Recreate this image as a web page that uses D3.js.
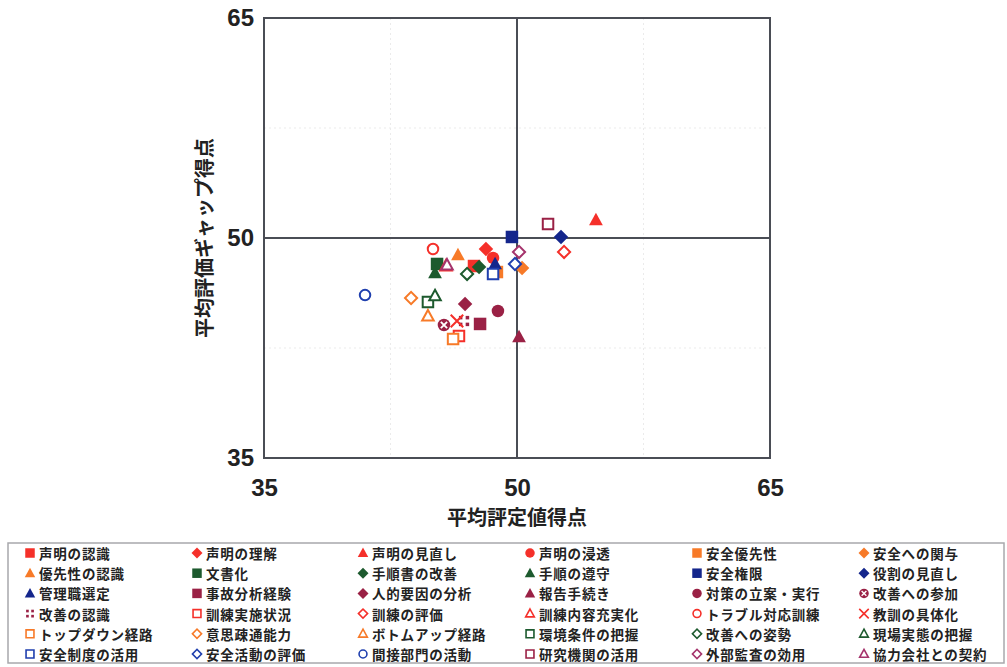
<!DOCTYPE html>
<html>
<head>
<meta charset="utf-8">
<script src="https://cdn.jsdelivr.net/npm/d3@7"></script>
<style>
  html, body { margin: 0; padding: 0; background: #fff; }
  svg { display: block; }
  .tick-label { font-family: 'Liberation Sans Narrow', 'Arial Narrow', 'Liberation Sans', sans-serif; font-weight: bold; font-size: 24px; fill: #222; }
  .axis-title { font-family: 'Noto Sans CJK JP', sans-serif; font-weight: bold; font-size: 20px; fill: #222; }
  .legend-text { font-family: 'Noto Sans CJK JP', sans-serif; font-weight: bold; font-size: 13.5px; fill: #222; letter-spacing: 0.8px; }
</style>
</head>
<body>
<svg id="chart" width="1007" height="667"></svg>
<script>
// Safety-culture survey items: mean rating score (x) vs mean rating-gap score (y)
const seriesNames = [
  "声明の認識", "声明の理解", "声明の見直し", "声明の浸透", "安全優先性", "安全への関与",
  "優先性の認識", "文書化", "手順書の改善", "手順の遵守", "安全権限", "役割の見直し",
  "管理職選定", "事故分析経験", "人的要因の分析", "報告手続き", "対策の立案・実行", "改善への参加",
  "改善の認識", "訓練実施状況", "訓練の評価", "訓練内容充実化", "トラブル対応訓練", "教訓の具体化",
  "トップダウン経路", "意思疎通能力", "ボトムアップ経路", "環境条件の把握", "改善への姿勢", "現場実態の把握",
  "安全制度の活用", "安全活動の評価", "間接部門の活動", "研究機関の活用", "外部監査の効用", "協力会社との契約"
];

const avgRating = [
  47.45, 48.16, 54.68, 48.58, 48.81, 50.30,
  46.50, 45.26, 47.75, 45.14, 49.70, 52.61,
  48.70, 47.81, 46.92, 50.12, 48.87, 45.67,
  46.86, 46.56, 52.79, 45.79, 45.02, 46.44,
  46.21, 43.72, 44.72, 44.72, 47.04, 45.14,
  48.58, 49.88, 40.99, 51.84, 50.12, 45.85
];

const avgGap = [
  48.09, 49.25, 51.23, 48.64, 47.68, 47.95,
  48.84, 48.23, 48.02, 47.61, 50.07, 50.07,
  48.23, 44.14, 45.50, 43.25, 45.02, 44.07,
  44.34, 43.32, 49.05, 48.09, 49.25, 44.34,
  43.11, 45.91, 44.68, 45.64, 47.55, 46.05,
  47.55, 48.23, 46.11, 50.95, 49.05, 48.16
];

const xTicks = [35, 50, 65];
const yTicks = [35, 50, 65];
const minorGrid = [42.5, 57.5];

// Marker style per series: shape, colour, filled or open
const RED = "#f5302a", ORANGE = "#f77a28", DKGREEN = "#1d5a2e", NAVY = "#14268c",
      MAROON = "#9a2145", BLUE = "#1f3fae", PURPLE = "#a5336c";
const markerStyles = [
  ["square", RED, true], ["diamond", RED, true], ["triangle", RED, true], ["circle", RED, true], ["square", ORANGE, true], ["diamond", ORANGE, true],
  ["triangle", ORANGE, true], ["square", DKGREEN, true], ["diamond", DKGREEN, true], ["triangle", DKGREEN, true], ["square", NAVY, true], ["diamond", NAVY, true],
  ["triangle", NAVY, true], ["square", MAROON, true], ["diamond", MAROON, true], ["triangle", MAROON, true], ["circle", MAROON, true], ["circlex", MAROON, true],
  ["dots", MAROON, true], ["square", RED, false], ["diamond", RED, false], ["triangle", RED, false], ["circle", RED, false], ["times", RED, false],
  ["square", ORANGE, false], ["diamond", ORANGE, false], ["triangle", ORANGE, false], ["square", DKGREEN, false], ["diamond", DKGREEN, false], ["triangle", DKGREEN, false],
  ["square", BLUE, false], ["diamond", BLUE, false], ["circle", BLUE, false], ["square", MAROON, false], ["diamond", PURPLE, false], ["triangle", PURPLE, false]
];

const svg = d3.select("#chart");
const plot = { left: 264, right: 770, top: 18, bottom: 458 };

const x = d3.scaleLinear().domain([35, 65]).range([plot.left, plot.right]);
const y = d3.scaleLinear().domain([35, 65]).range([plot.bottom, plot.top]);

// faint minor gridlines
const grid = svg.append("g");
grid.selectAll("line.gx").data(minorGrid).join("line")
  .attr("x1", d => x(d)).attr("x2", d => x(d))
  .attr("y1", plot.top).attr("y2", plot.bottom)
  .attr("stroke", "#ebebeb").attr("stroke-width", 1).attr("stroke-dasharray", "2,3");
grid.selectAll("line.gy").data(minorGrid).join("line")
  .attr("y1", d => y(d)).attr("y2", d => y(d))
  .attr("x1", plot.left).attr("x2", plot.right)
  .attr("stroke", "#ebebeb").attr("stroke-width", 1).attr("stroke-dasharray", "2,3");

// frame
svg.append("rect")
  .attr("x", plot.left).attr("y", plot.top)
  .attr("width", plot.right - plot.left).attr("height", plot.bottom - plot.top)
  .attr("fill", "none").attr("stroke", "#4a4d55").attr("stroke-width", 2);

// crosshair at 50 / 50
svg.append("line").attr("x1", x(50)).attr("x2", x(50)).attr("y1", plot.top).attr("y2", plot.bottom)
  .attr("stroke", "#4a4d55").attr("stroke-width", 2);
svg.append("line").attr("y1", y(50)).attr("y2", y(50)).attr("x1", plot.left).attr("x2", plot.right)
  .attr("stroke", "#4a4d55").attr("stroke-width", 2);

// axes (labels only)
const xAxis = svg.append("g").attr("transform", `translate(0,${plot.bottom})`)
  .call(d3.axisBottom(x).tickValues(xTicks).tickSize(0).tickPadding(21).tickFormat(d3.format("d")));
const yAxis = svg.append("g").attr("transform", `translate(${plot.left},0)`)
  .call(d3.axisLeft(y).tickValues(yTicks).tickSize(0).tickPadding(10).tickFormat(d3.format("d")));
[xAxis, yAxis].forEach(a => {
  a.select(".domain").remove();
  a.selectAll("text").attr("class", "tick-label").attr("font-size", null).attr("font-family", null);
});
xAxis.attr("font-size", null).attr("font-family", null);
yAxis.attr("font-size", null).attr("font-family", null);

// axis titles
svg.append("text").attr("class", "axis-title")
  .attr("x", x(50)).attr("y", 525).attr("text-anchor", "middle").text("平均評定値得点");
svg.append("text").attr("class", "axis-title")
  .attr("transform", `translate(207,${y(50)}) rotate(-90)`)
  .attr("text-anchor", "middle").attr("dominant-baseline", "middle").text("平均評価ギャップ得点");

// marker drawing
function drawMarker(g, style, s) {
  const [shape, color, filled] = style;
  const fill = filled ? color : "#fff";
  const sw = filled ? 0 : Math.max(1.6, s * 0.16);
  const inner = filled ? s : s - sw;
  if (shape === "square") {
    g.append("path").attr("d", d3.symbol(d3.symbolSquare, inner * inner)())
      .attr("fill", fill).attr("stroke", color).attr("stroke-width", sw);
  } else if (shape === "diamond") {
    const side = inner * 0.82;
    g.append("path").attr("d", d3.symbol(d3.symbolSquare, side * side)())
      .attr("transform", "rotate(45)")
      .attr("fill", fill).attr("stroke", color).attr("stroke-width", sw);
  } else if (shape === "triangle") {
    const h = inner * 1.0, w = inner * 1.1;
    g.append("path").attr("d", `M0,${-h * 0.58}L${w / 2},${h * 0.42}L${-w / 2},${h * 0.42}Z`)
      .attr("fill", fill).attr("stroke", color).attr("stroke-width", sw).attr("stroke-linejoin", "miter");
  } else if (shape === "circle") {
    g.append("circle").attr("r", inner / 2)
      .attr("fill", fill).attr("stroke", color).attr("stroke-width", sw);
  } else if (shape === "circlex") {
    const r = s / 2;
    g.append("circle").attr("r", r).attr("fill", color);
    const k = r * 0.5;
    g.append("path").attr("d", `M${-k},${-k}L${k},${k}M${k},${-k}L${-k},${k}`)
      .attr("stroke", "#fff").attr("stroke-width", Math.max(1.2, s * 0.15));
  } else if (shape === "dots") {
    const d = s * 0.28, o = s * 0.27;
    [[-1, -1], [1, -1], [-1, 1], [1, 1]].forEach(([a, b]) => {
      g.append("rect").attr("x", a * o - d / 2).attr("y", b * o - d / 2)
        .attr("width", d).attr("height", d).attr("fill", color);
    });
  } else if (shape === "times") {
    const k = s / 2;
    g.append("path").attr("d", `M${-k},${-k}L${k},${k}M${k},${-k}L${-k},${k}`)
      .attr("stroke", color).attr("stroke-width", Math.max(1.6, s * 0.16));
  }
}

// data points (drawn in series order so later series sit on top)
const points = svg.append("g");
seriesNames.forEach((name, i) => {
  const g = points.append("g").attr("transform", `translate(${x(avgRating[i])},${y(avgGap[i])})`);
  drawMarker(g, markerStyles[i], 12.5);
});

// legend
const legend = svg.append("g");
legend.append("rect").attr("x", 8).attr("y", 543).attr("width", 996).attr("height", 120)
  .attr("fill", "#fff").attr("stroke", "#a8a8ac").attr("stroke-width", 1.5);
const colX = [30, 197, 363, 530, 697, 864];
seriesNames.forEach((name, i) => {
  const cx = colX[i % 6], cy = 553 + Math.floor(i / 6) * 20.2;
  const g = legend.append("g").attr("transform", `translate(${cx},${cy})`);
  drawMarker(g, markerStyles[i], 9.5);
  legend.append("text").attr("class", "legend-text")
    .attr("x", cx + 9).attr("y", cy).attr("dominant-baseline", "central").text(name);
});
</script>
</body>
</html>
